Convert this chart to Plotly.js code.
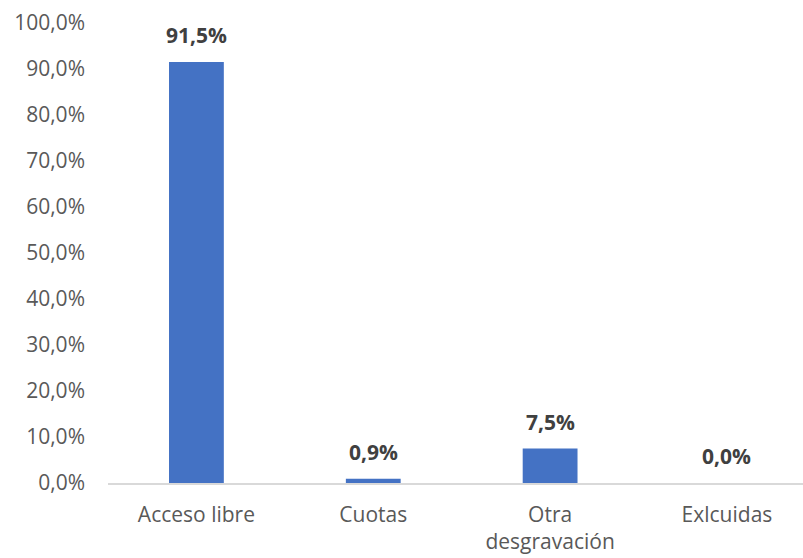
<!DOCTYPE html>
<html>
<head>
<meta charset="utf-8">
<script src="https://cdn.plot.ly/plotly-3.0.1.min.js"></script>
<style>html,body{margin:0;padding:0;background:#fff}#chart{width:803px;height:558px}</style>
</head>
<body>
<div id="chart"></div>
<script>
const categories = ["Acceso libre", "Cuotas", "Otra<br>desgravación", "Exlcuidas"];
const values = [91.5, 0.9, 7.5, 0.0];
const tickValues = [0, 10, 20, 30, 40, 50, 60, 70, 80, 90, 100];
const tickLabels = tickValues.map(v => v.toFixed(1).replace(".", ",") + "%");

const fontFamily = "Open Sans, Noto Sans, sans-serif";
const fs = 21;

const annotations = categories.map((c, i) => ({
  x: c, y: values[i], xref: "x", yref: "y",
  text: "<b>" + values[i].toFixed(1).replace(".", ",") + "%</b>",
  showarrow: false, yanchor: "middle", yshift: 27,
  font: {family: fontFamily, size: fs, color: "#404040"}
}));

Plotly.newPlot("chart", [{
  type: "bar",
  x: categories,
  y: values,
  width: 0.31,
  marker: {color: "#4472C4"},
  hoverinfo: "none"
}], {
  width: 803, height: 558,
  margin: {l: 108, r: 0, t: 23, b: 75, pad: 0},
  paper_bgcolor: "#fff", plot_bgcolor: "#fff",
  showlegend: false,
  font: {family: fontFamily, size: fs, color: "#595959"},
  xaxis: {
    type: "category",
    range: [-0.5, 3.43],
    showgrid: false, zeroline: false,
    showline: true, linecolor: "#d9d9d9", linewidth: 1.5,
    ticks: "", ticklabelstandoff: 12,
    tickfont: {family: fontFamily, size: fs, color: "#595959"},
    fixedrange: true
  },
  yaxis: {
    range: [0, 100],
    tickmode: "array",
    tickvals: tickValues,
    ticktext: tickLabels,
    showgrid: false, zeroline: false, showline: false,
    ticks: "", ticklabelstandoff: 22,
    tickfont: {family: fontFamily, size: fs, color: "#595959"},
    fixedrange: true
  },
  annotations: annotations
}, {displayModeBar: false, staticPlot: true});
</script>
</body>
</html>
